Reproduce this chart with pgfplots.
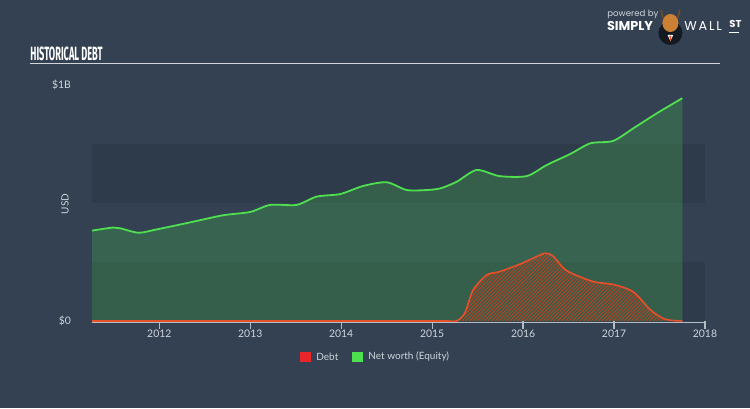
\documentclass[border=0pt]{standalone}
\usepackage{pgfplots}
\pgfplotsset{compat=1.18}
\usepackage{fontspec}
\setmainfont{Lato}
\newfontfamily\titlefont[FakeStretch=0.48]{Fira Sans}
\newfontfamily\logofont{Poppins}
\usetikzlibrary{patterns.meta}
\definecolor{bg}{HTML}{334152}
\definecolor{band}{HTML}{2E3B4B}
\definecolor{eqline}{HTML}{4FE04F}
\definecolor{debtline}{HTML}{E8502A}
\definecolor{legred}{HTML}{E8262A}
\definecolor{axisgray}{HTML}{B4BCC6}
\definecolor{txtgray}{HTML}{D0D5DC}
\definecolor{rulegray}{HTML}{D0D6DC}

\pgfplotstableread{
x y
2011.26 0.383
2011.49 0.396
2011.57 0.393
2011.77 0.374
2011.97 0.388
2012.34 0.418
2012.70 0.448
2013.00 0.462
2013.22 0.492
2013.51 0.492
2013.73 0.527
2013.99 0.538
2014.24 0.572
2014.50 0.588
2014.72 0.555
2014.94 0.555
2015.09 0.562
2015.27 0.590
2015.49 0.640
2015.74 0.614
2016.04 0.614
2016.26 0.661
2016.52 0.708
2016.74 0.753
2016.99 0.763
2017.21 0.816
2017.47 0.880
2017.75 0.944
}\equity

\pgfplotstableread{
x y
2011.26 0
2012.00 0
2013.00 0
2014.00 0
2014.80 0
2015.05 0
2015.18 0
2015.27 0
2015.36 0.034
2015.45 0.131
2015.60 0.195
2015.74 0.209
2015.96 0.240
2016.11 0.266
2016.24 0.287
2016.33 0.275
2016.48 0.213
2016.77 0.167
2016.99 0.155
2017.21 0.124
2017.40 0.047
2017.54 0.011
2017.65 0.002
2017.75 0
}\debt

\begin{document}
\begin{tikzpicture}
\fill[bg] (0,0) rectangle (375pt,204pt);
% title
\node[anchor=west, text=white, inner sep=0pt, font=\titlefont\bfseries\fontsize{9.6}{10}\selectfont] at (15pt,177.3pt) {HISTORICAL DEBT};
\draw[rulegray, line width=0.8pt] (15pt,172.2pt) -- (360pt,172.2pt);
% logo
\node[anchor=west, text=txtgray, inner sep=0pt, font=\logofont\fontsize{4.3}{5}\selectfont] at (303.5pt,196.8pt) {powered by};
\node[anchor=west, text=white, inner sep=0pt, font=\logofont\bfseries\fontsize{6.4}{7}\selectfont] at (303.3pt,191pt) {SIMPLY};
\fill[black!60!bg] (335.2pt,187.5pt) circle [radius=6pt];
\fill[brown!80!orange] (335.2pt,192.5pt) ellipse [x radius=4pt, y radius=4.5pt];
\draw[brown!60!black, line width=0.8pt] (331.5pt,195pt) -- (330.5pt,199pt);
\draw[brown!60!black, line width=0.8pt] (338.9pt,195pt) -- (339.9pt,199pt);
\fill[white] (335.2pt,183.5pt) -- (333.8pt,186.5pt) -- (336.6pt,186.5pt) -- cycle;
\fill[debtline] (335.2pt,183pt) -- (334.7pt,186pt) -- (335.7pt,186pt) -- cycle;
\node[anchor=west, text=white, inner sep=0pt, font=\logofont\fontsize{6.4}{7}\selectfont] at (342pt,191pt) {W\hspace{0.9pt}A\hspace{0.9pt}L\hspace{0.9pt}L};
\node[anchor=west, text=white, inner sep=0pt, font=\logofont\bfseries\fontsize{5}{6}\selectfont] at (364.5pt,191.8pt) {ST};
\draw[white, line width=0.5pt] (364.7pt,187.6pt) -- (369.5pt,187.6pt);
% y label
\node[rotate=90, text=txtgray, inner sep=0pt, font=\fontsize{5}{6}\selectfont] at (32.5pt,102pt) {USD};
% legend
\fill[legred] (150pt,23.2pt) rectangle (155.5pt,28.2pt);
\node[anchor=west, text=txtgray, inner sep=0pt, font=\fontsize{5}{6}\selectfont] at (158pt,25.7pt) {Debt};
\fill[eqline] (176pt,23.2pt) rectangle (181.5pt,28.2pt);
\node[anchor=west, text=txtgray, inner sep=0pt, font=\fontsize{5}{6}\selectfont] at (184pt,25.7pt) {Net worth (Equity)};

\begin{axis}[
  at={(46pt,43.5pt)}, anchor=south west,
  scale only axis, width=306.5pt, height=118pt,
  xmin=2011.26, xmax=2018, ymin=0, ymax=1,
  axis line style={draw=none},
  xtick={2012,2013,2014,2015,2016,2017,2018},
  xticklabels={2012,2013,2014,2015,2016,2017,2018},
  ytick={0,1}, yticklabels={\$0,\$1B},
  xtick pos=bottom, ytick pos=left,
  tick align=outside,
  x tick style={draw=axisgray, line width=0.6pt},
  major tick length=4pt,
  y tick style={draw=none},
  xticklabel style={font=\fontsize{5.2}{6}\selectfont, text=txtgray, inner sep=0.5pt, yshift=0.3pt},
  yticklabel style={font=\fontsize{5.2}{6}\selectfont, text=txtgray, xshift=-3pt},
  clip=false,
]
\fill[band] (axis cs:2011.26,0) rectangle (axis cs:2018,0.25);
\fill[band] (axis cs:2011.26,0.5) rectangle (axis cs:2018,0.75);
\addplot[draw=none, fill=eqline, fill opacity=0.22, smooth, tension=0.45] table {\equity} \closedcycle;
\addplot[eqline, line width=0.9pt, smooth, tension=0.45] table {\equity};
\addplot[draw=none, pattern={Lines[angle=45,distance=1.3pt,line width=0.5pt]}, pattern color=debtline!80!black, smooth, tension=0.45] table {\debt} \closedcycle;
\addplot[debtline, line width=0.8pt, smooth, tension=0.45] table {\debt};
\draw[axisgray, line width=0.7pt] ([yshift=-0.6pt]axis cs:2011.26,0) -- ([yshift=-0.6pt]axis cs:2018,0);
\end{axis}
\pgfresetboundingbox
\path (0,0) rectangle (375pt,204pt);
\end{tikzpicture}
\end{document}
